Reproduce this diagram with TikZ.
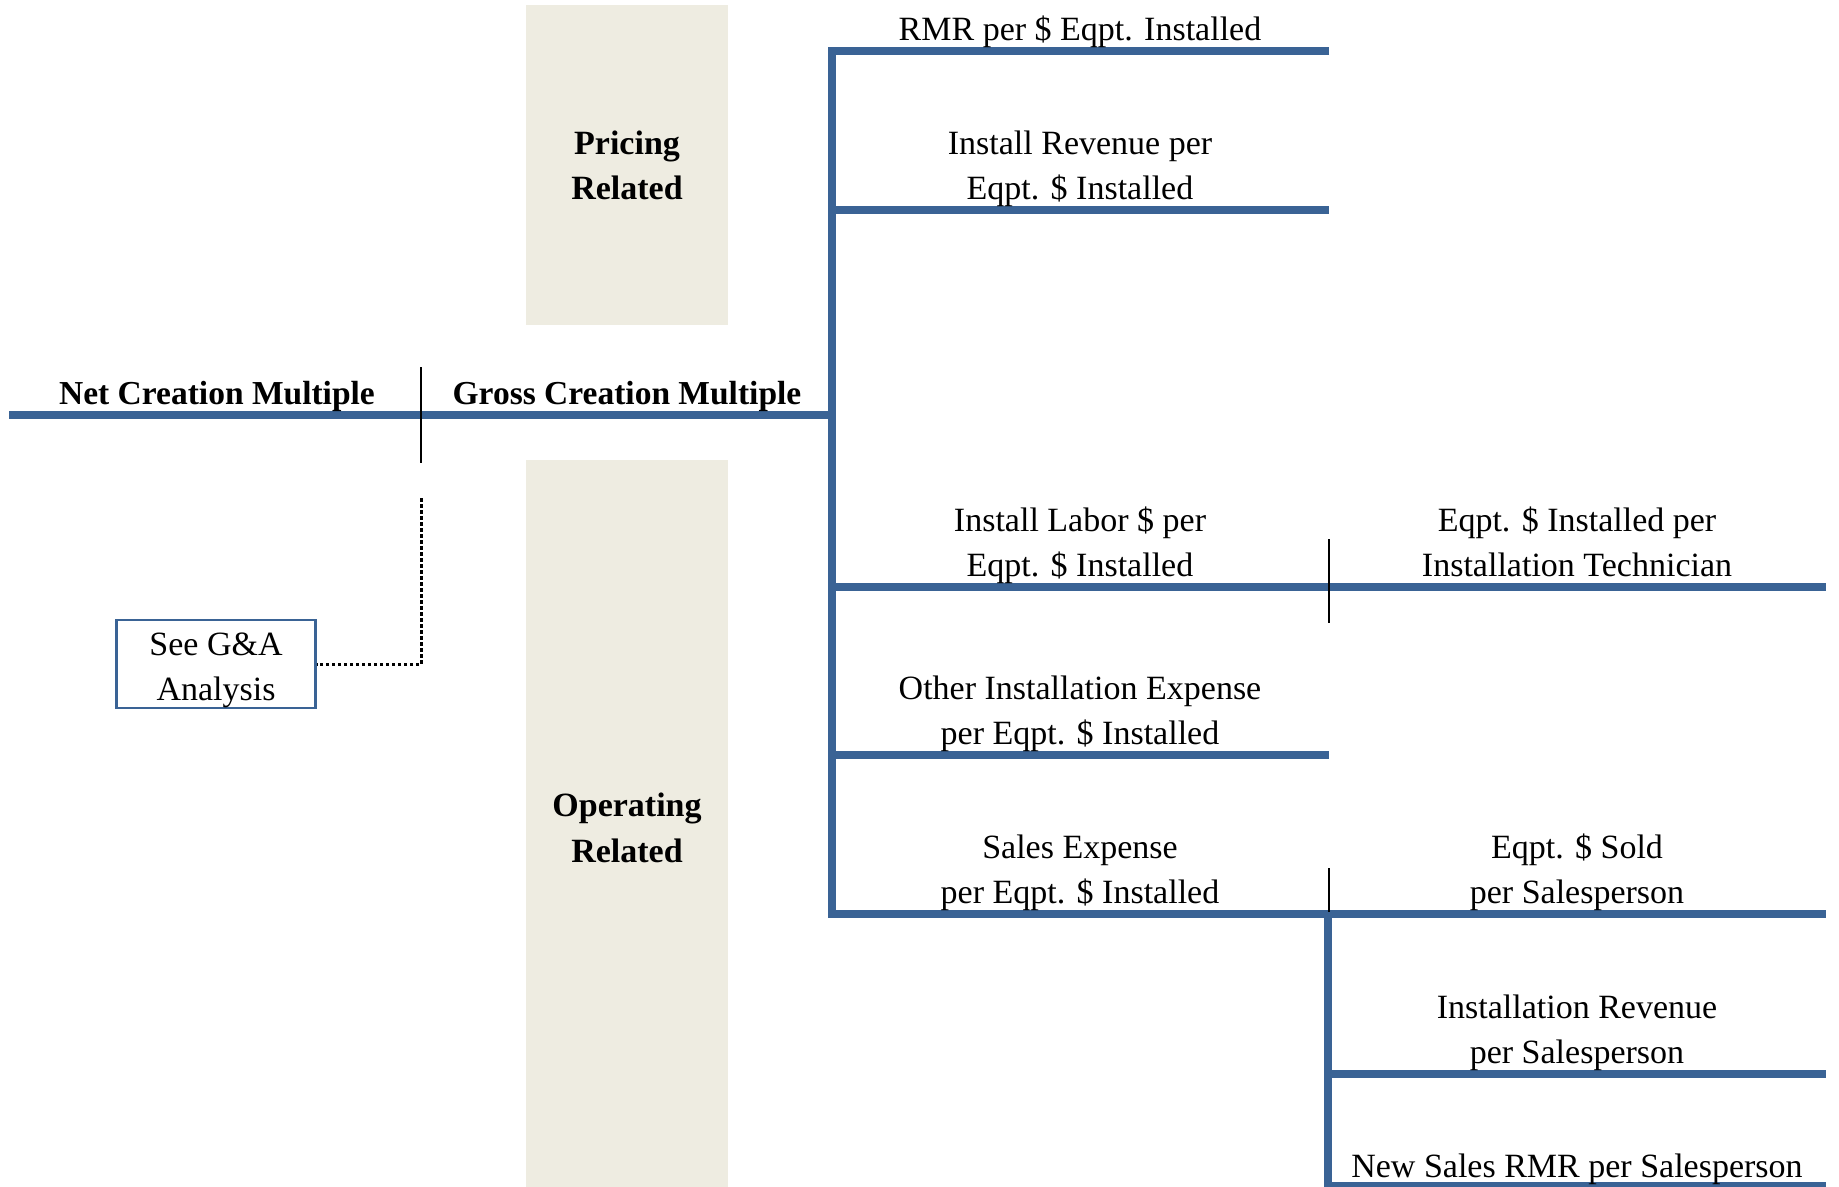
\documentclass[tikz,border=0pt]{standalone}
\usepackage{fontspec}
\setmainfont{Liberation Serif}
\begin{document}
\begin{tikzpicture}[x=1pt,y=-1pt,
  every node/.style={inner sep=0pt,font=\fontsize{34}{45}\selectfont},
  bar/.style={draw=barblue,line width=7.5pt,line join=miter},
  tick/.style={draw=black,line width=2.3pt},
  lbl/.style={anchor=south,align=center,yshift=-3.5pt},
  blbl/.style={anchor=south,align=center,yshift=-3pt,font=\fontsize{33.5}{45}\selectfont\bfseries},
  panel/.style={fill=panelbeige,draw=none,minimum width=202pt,align=center,font=\fontsize{34}{45}\selectfont\bfseries},
  refbox/.style={draw=barblue,line width=2.5pt,fill=white,minimum width=199pt,minimum height=88pt,align=center}]
\definecolor{barblue}{RGB}{58,99,149}
\definecolor{panelbeige}{RGB}{238,236,225}
\useasboundingbox (0,0) rectangle (1839,1186);
\fill[white] (0,0) rectangle (1839,1186);

% shaded panels
\node[panel,minimum height=320pt] (pricing) at (627,165) {Pricing\\Related};
\node[panel,minimum height=740pt] (operating) at (627,830) {};
\node[font=\fontsize{34}{46}\selectfont\bfseries,align=center] (oplbl) at (627,828) {Operating\\Related};

% coordinates of the tree
\coordinate (root) at (9,415);
\coordinate (j0) at (832,415);
\coordinate (t1) at (832,51);
\coordinate (e1) at (1329,51);
\coordinate (t2) at (832,210);
\coordinate (e2) at (1329,210);
\coordinate (t3) at (832,587);
\coordinate (e3) at (1826,587);
\coordinate (t4) at (832,755);
\coordinate (e4) at (1329,755);
\coordinate (t5) at (832,914);
\coordinate (e5) at (1826,914);
\coordinate (s0) at (1328,914);
\coordinate (s1) at (1328,1074);
\coordinate (f1) at (1826,1074);
\coordinate (s2) at (1328,1186);
\coordinate (f2) at (1826,1186);

% blue tree lines
\draw[bar] (e1) -- (t1) -- (t5) -- (e5);
\draw[bar] (root) -- (j0);
\draw[bar] (t2) -- (e2);
\draw[bar] (t3) -- (e3);
\draw[bar] (t4) -- (e4);
\draw[bar] (s0) -- (1328,1195);
\draw[bar] (s1) -- (f1);
\draw[bar] (s2) -- (f2);

% black ticks
\coordinate (k1a) at (421,367);
\coordinate (k1b) at (421,463);
\coordinate (k2a) at (1329,539);
\coordinate (k2b) at (1329,623);
\coordinate (k3a) at (1329,868);
\coordinate (k3b) at (1329,912);
\draw[tick] (k1a) -- (k1b);
\draw[tick] (k2a) -- (k2b);
\draw[tick] (k3a) -- (k3b);

% See G&A box and dotted connector
\node[refbox,label={[align=center,yshift=-6pt]center:See G\&A\\Analysis}] (ga) at (216,664) {};
\coordinate (d0) at (421,498);
\draw[black,line width=3pt,dash pattern=on 3.5pt off 2.5pt] (d0) |- (ga.east);

% bold labels
\node[blbl] (net) at (217,415) {Net Creation Multiple\strut};
\node[blbl] (gross) at (627,415) {Gross Creation Multiple\strut};

% column 1 labels
\node[lbl] (l1) at (1080,51) {RMR per \$ Eqpt. Installed\strut};
\node[lbl] (l2) at (1080,210) {Install Revenue per\\Eqpt. \$ Installed\strut};
\node[lbl] (l3) at (1080,587) {Install Labor \$ per\\Eqpt. \$ Installed\strut};
\node[lbl] (l4) at (1080,755) {Other Installation Expense\\per Eqpt. \$ Installed\strut};
\node[lbl] (l5) at (1080,914) {Sales Expense\\per Eqpt. \$ Installed\strut};

% column 2 labels
\node[lbl] (r1) at (1577,587) {Eqpt. \$ Installed per\\Installation Technician\strut};
\node[lbl] (r2) at (1577,914) {Eqpt. \$ Sold\\per Salesperson\strut};
\node[lbl] (r3) at (1577,1074) {Installation Revenue\\per Salesperson\strut};
\node[lbl] (r4) at (1577,1188) {New Sales RMR per Salesperson\strut};
\end{tikzpicture}
\end{document}
